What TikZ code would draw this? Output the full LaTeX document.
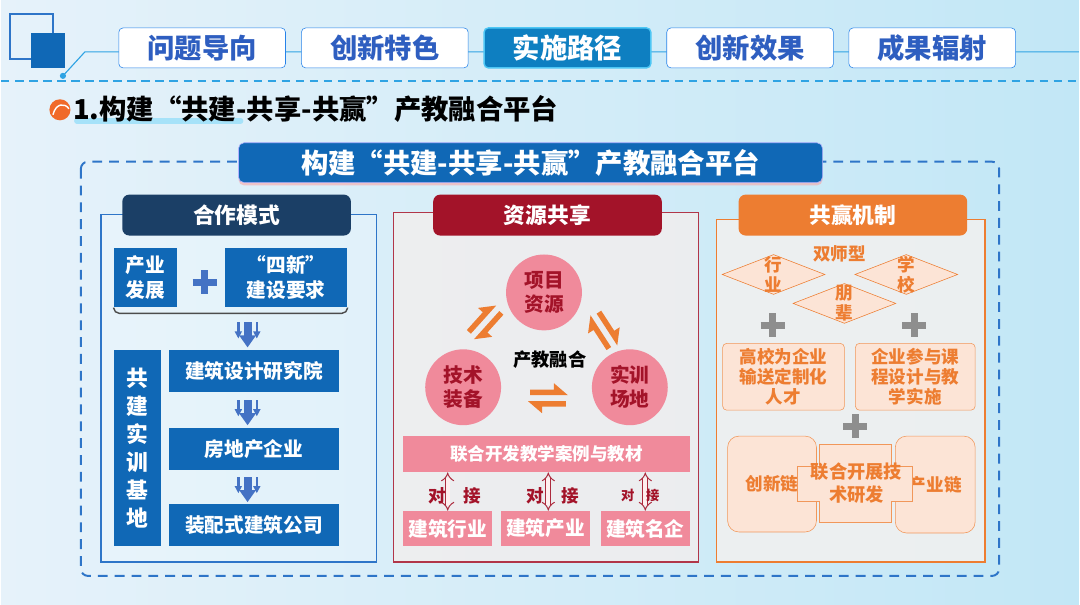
\documentclass[tikz,border=0pt]{standalone}
\usepackage{fontspec}
\setmainfont{Noto Sans CJK SC}
\usepackage{tikz}
\usetikzlibrary{positioning, arrows.meta, shapes.geometric, shadows}

\definecolor{bgl}{HTML}{E6F2FA}
\definecolor{bgr}{HTML}{C2E7F6}
\definecolor{tabblue}{HTML}{2E5EC0}
\definecolor{tabline}{HTML}{2FA3E3}
\definecolor{navy}{HTML}{1B3F66}
\definecolor{boxblue}{HTML}{1068B6}
\definecolor{framblue}{HTML}{2E75C8}
\definecolor{crimson}{HTML}{A31329}
\definecolor{pinkfill}{HTML}{F08A9B}
\definecolor{orng}{HTML}{ED7D31}
\definecolor{peach}{HTML}{FCE4D6}
\definecolor{plusgray}{HTML}{8E8E8E}
\definecolor{arrblue}{HTML}{4472C4}

\tikzset{
  crossmark/.pic={\draw[line width=5pt] (-12,0)--(12,0) (0,-12)--(0,12);},
  downs/.pic={
    \fill (-4,0) rectangle (4,14); \fill (-8.5,13)--(8.5,13)--(0,25)--cycle;
    \fill (-10.5,0) rectangle (-8,10); \fill (-13,9)--(-5.5,9)--(-9.25,16)--cycle;
    \fill (8,0) rectangle (10.5,10); \fill (5.5,9)--(13,9)--(9.25,16)--cycle;},
  twoway/.pic={
    \fill (-18,-3)--(20,-3)--(6,-15)--(6,-8.5)--(-18,-8.5)--cycle;
    \fill (18,3)--(-20,3)--(-6,15)--(-6,8.5)--(18,8.5)--cycle;}
}

\begin{document}
\begin{tikzpicture}[x=0.025cm, y=-0.025cm,
  font=\bfseries,
  tab/.style={draw=tabline!80!blue, fill=white, rounded corners=3pt, minimum width=4.175cm,
    minimum height=1.0cm, text=tabblue, font=\fontsize{19.5}{21}\selectfont\bfseries},
  tabon/.style={tab, fill=boxblue!85!cyan, draw=cyan!70, line width=1pt, text=white},
  header/.style={rounded corners=5pt, minimum width=5.725cm, minimum height=1.025cm,
    text=white, font=\fontsize{15.5}{18}\selectfont\bfseries},
  bluebox/.style={fill=boxblue, text=white, align=center, inner sep=1pt,
    font=\fontsize{14}{18}\selectfont\bfseries},
  stepbox/.style={bluebox, minimum width=4.275cm, minimum height=1.05cm},
  ball/.style={circle, fill=pinkfill, minimum size=1.9cm, inner sep=0pt, align=center,
    text=crimson, font=\fontsize{14}{17}\selectfont\bfseries},
  pinkbox/.style={fill=pinkfill, text=white, inner sep=1pt, font=\fontsize{14}{17}\selectfont\bfseries},
  dock/.style={double=white!75!pink, draw=crimson!90, line width=0.7pt, double distance=2.6pt,
    {Implies}-{Implies}},
  docklab/.style={text=crimson, font=\fontsize{12.5}{14}\selectfont\bfseries},
  dia/.style={diamond, draw=orng, fill=peach, minimum width=2.575cm, minimum height=1.0cm, inner sep=0pt},
  diatext/.style={align=center, text=orng, font=\fontsize{12.5}{14.5}\selectfont\bfseries},
  peachbox/.style={draw=orng!80, fill=peach, rounded corners=3pt, align=center, text=orng,
    inner sep=1pt, font=\fontsize{12.5}{14.5}\selectfont\bfseries}
]
% --- background ---
\shade[left color=bgl, right color=bgr] (0,0) rectangle (1080,606);
% --- top bar ---
\draw[framblue, line width=1pt] (9,14) rectangle (52,59);
\fill[boxblue] (30,33) rectangle (64,68);
\coordinate (dot) at (62,76);
\coordinate (bend) at (84,52);
\coordinate (barend) at (1080,52);
\draw[tabline, line width=0.8pt] (dot)--(bend)--(barend);
\fill[tabline] (dot) circle (2.2pt);
\draw[tabline, line width=1.5pt, dash pattern=on 6pt off 4pt] (0,81)--(1080,81);
\node[tab] (t1) at (201.5,48) {问题导向};
\node[tab] (t2) at (384.5,48) {创新特色};
\node[tabon] (t3) at (567.5,48) {实施路径};
\node[tab] (t4) at (750.5,48) {创新效果};
\node[tab] (t5) at (933,48) {成果辐射};
% --- title ---
\draw[cyan!35, line width=4pt, line cap=round] (76,121)--(240,121);
\fill[orng!85!red] (59,110) circle (7.5pt);
\draw[white, line width=1pt] (52,115) .. controls (55,103) and (64,103) .. (68,109);
\node[anchor=west, font=\fontsize{19.5}{21}\selectfont\bfseries, inner sep=0pt] (ttl) at (72,109)
  {1.构建“共建-共享-共赢”产教融合平台};
% --- outer frame and banner ---
\draw[framblue, line width=1.4pt, dash pattern=on 7pt off 5pt, rounded corners=5pt] (80,162) rectangle (1000,577);
\node[fill=boxblue, draw=white!70!blue, rounded corners=4pt, minimum width=14.625cm, minimum height=1.0cm,
  text=white, font=\fontsize{19.5}{21}\selectfont\bfseries,
  drop shadow={shadow xshift=0pt, shadow yshift=-2pt, fill=red!40, opacity=.5}] (banner) at (530.5,163)
  {构建“共建-共享-共赢”产教融合平台};
% --- 合作模式 ---
\draw[framblue, line width=1pt, fill=white, fill opacity=.2] (100,215) rectangle (376,563);
\node[header, fill=navy] (h1) at (236,215.5) {合作模式};
\node[bluebox, minimum width=1.575cm, minimum height=1.5cm] (cyfz) at (144.5,278) {产业\\发展};
\node[bluebox, minimum width=3.075cm, minimum height=1.5cm] (sixin) at (285.5,278) {“四新”\\建设要求};
\pic[color=arrblue] at (204,283) {crossmark};
\draw[gray!60!black, line width=1pt, rounded corners=4pt] (cyfz.south west)--(113,314)--(347,314)--(sixin.south east);
\node[bluebox, minimum width=1.175cm, minimum height=4.9cm, font=\fontsize{15.5}{20}\selectfont\bfseries] (base) at (136.5,449)
  {共\\建\\实\\训\\基\\地};
\node[stepbox] (s1) at (253.5,372) {建筑设计研究院};
\node[stepbox] (s2) at (253.5,450) {房地产企业};
\node[stepbox] (s3) at (253.5,526) {装配式建筑公司};
\pic[color=arrblue] at (247,323) {downs};
\pic[color=arrblue] at (247,401) {downs};
\pic[color=arrblue] at (247,478) {downs};
% --- 资源共享 ---
\draw[crimson!85, line width=1pt, fill=pink!25!gray!15, fill opacity=.85] (393,213) rectangle (699,563);
\node[header, fill=crimson] (h2) at (547.5,215.5) {资源共享};
\node[ball] (proj) at (544,293) {项目\\资源};
\node[ball] (tech) at (463,388) {技术\\装备};
\node[ball] (site) at (630,388) {实训\\场地};
\node[font=\fontsize{13}{15}\selectfont\bfseries] (core) at (550,360) {产教融合};
\pic[color=orng, rotate=48] at (485,323) {twoway};
\pic[color=orng, rotate=-57] at (604,331) {twoway};
\pic[color=orng] at (548,399) {twoway};
\node[pinkbox, minimum width=7.175cm, minimum height=0.9cm, font=\fontsize{12.5}{15}\selectfont\bfseries] (case) at (546.5,455)
  {联合开发教学案例与教材};
\node[pinkbox, minimum width=2.225cm, minimum height=0.875cm] (b1) at (447.5,529.5) {建筑行业};
\node[pinkbox, minimum width=2.225cm, minimum height=0.875cm] (b2) at (545.5,529.5) {建筑产业};
\node[pinkbox, minimum width=2.225cm, minimum height=0.875cm] (b3) at (645.5,529.5) {建筑名企};
\draw[dock] (case.south -| b1) -- (b1.north);
\draw[dock] ([xshift=2pt]case.south -| b2) -- ([xshift=2pt]b2.north);
\draw[dock] (case.south -| b3) -- (b3.north);
\node[docklab] (d1) at (437,497) {对};
\node[docklab] (j1) at (472,497) {接};
\node[docklab] (d2) at (535,497) {对};
\node[docklab] (j2) at (570,497) {接};
\node[docklab, font=\fontsize{9.5}{11}\selectfont\bfseries] (d3) at (628,496) {对};
\node[docklab, font=\fontsize{9.5}{11}\selectfont\bfseries] (j3) at (653,496) {接};
% --- 共赢机制 ---
\draw[orng, line width=1pt, fill=gray!12, fill opacity=.9] (717,220) rectangle (986,563);
\node[header, fill=orng] (h3) at (853.5,215.5) {共赢机制};
\node[diatext] (sszx) at (840,254) {双师型};
\node[dia] (hy) at (774,275) {};
\node[diatext] (hyt) at (hy) {行\\业};
\node[dia] (xx) at (907,275) {};
\node[diatext] (xxt) at (xx) {学\\校};
\node[dia] (pb) at (845,304) {};
\node[diatext] (pbt) at (pb) {朋\\辈};
\pic[color=plusgray] at (773,326) {crossmark};
\pic[color=plusgray] at (915,326) {crossmark};
\node[peachbox, minimum width=3.05cm, minimum height=1.675cm] (gx) at (784,377.5) {高校为企业\\输送定制化\\人才};
\node[peachbox, minimum width=3.0cm, minimum height=1.675cm] (qy) at (916,377.5) {企业参与课\\程设计与教\\学实施};
\pic[color=plusgray] at (856,427) {crossmark};
\node[peachbox, rounded corners=8pt, minimum width=2.225cm, minimum height=2.4cm] (cxl) at (772.5,485) {创新链};
\node[peachbox, rounded corners=8pt, minimum width=2.0cm, minimum height=2.425cm] (cyl) at (936,485.5) {产业链};
\draw[orng!80, fill=peach] (820,445)--(892,445)--(892,467)--(913,467)--(913,502)--(892,502)--(892,523)
  --(820,523)--(820,502)--(798,502)--(798,467)--(820,467)--cycle;
\node[align=center, text=orng, font=\fontsize{13}{16}\selectfont\bfseries] (yf) at (857,484) {联合开展技\\术研发};
\end{tikzpicture}
\end{document}
